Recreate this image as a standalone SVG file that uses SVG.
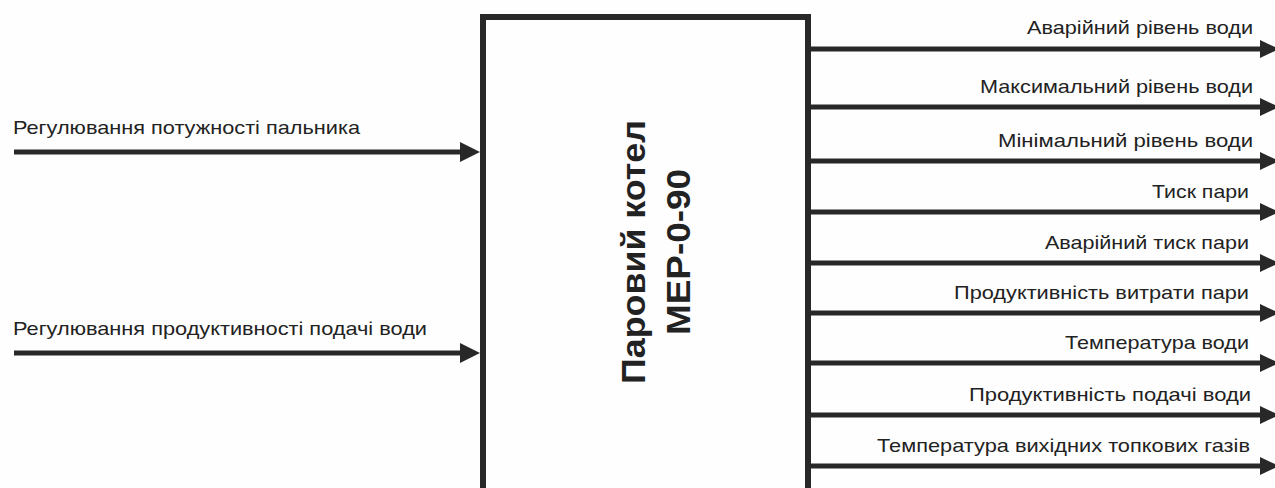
<svg xmlns="http://www.w3.org/2000/svg" width="1275" height="488" viewBox="0 0 1275 488">
  <style>
    .wire { stroke: #282828; stroke-width: 5; fill: none; }
    .head { fill: #282828; }
    .lbl { font-family: "Liberation Sans", Arial, sans-serif; font-size: 19px; fill: #222; }
    .out { text-anchor: end; }
    .title { font-family: "Liberation Sans", Arial, sans-serif; font-size: 33px; font-weight: bold; fill: #222; text-anchor: middle; }
  </style>
  <defs>
    <polygon id="tip" class="head" points="-20,-10 0,0 -20,10"/>
    <polygon id="tip-out" class="head" points="-19,-9 0,0 -19,9"/>
  </defs>
  <rect width="1275" height="488" fill="#fefefe"/>

  <!-- boiler block -->
  <g id="boiler">
    <rect x="483" y="17" width="325" height="500" fill="#fefefe" stroke="#282828" stroke-width="6"/>
    <text class="title" transform="translate(645,252) rotate(-90)" textLength="264" lengthAdjust="spacingAndGlyphs">Паровий котел</text>
    <text class="title" transform="translate(690,252) rotate(-90)" textLength="166" lengthAdjust="spacingAndGlyphs">МЕР-0-90</text>
  </g>

  <!-- inputs -->
  <g id="in-burner">
    <text class="lbl" x="13" y="134" textLength="347" lengthAdjust="spacingAndGlyphs">Регулювання потужності пальника</text>
  </g>
  <g id="in-feed">
    <text class="lbl" x="13" y="335" textLength="414" lengthAdjust="spacingAndGlyphs">Регулювання продуктивності подачі води</text>
  </g>

  <!-- outputs -->
  <g id="out-1"><text class="lbl out" x="1253" y="34" textLength="226" lengthAdjust="spacingAndGlyphs">Аварійний рівень води</text></g>
  <g id="out-2"><text class="lbl out" x="1253" y="93" textLength="273" lengthAdjust="spacingAndGlyphs">Максимальний рівень води</text></g>
  <g id="out-3"><text class="lbl out" x="1253" y="147" textLength="255" lengthAdjust="spacingAndGlyphs">Мінімальний рівень води</text></g>
  <g id="out-4"><text class="lbl out" x="1249" y="198" textLength="97" lengthAdjust="spacingAndGlyphs">Тиск пари</text></g>
  <g id="out-5"><text class="lbl out" x="1249" y="249" textLength="204" lengthAdjust="spacingAndGlyphs">Аварійний тиск пари</text></g>
  <g id="out-6"><text class="lbl out" x="1249" y="299" textLength="295" lengthAdjust="spacingAndGlyphs">Продуктивність витрати пари</text></g>
  <g id="out-7"><text class="lbl out" x="1249" y="349" textLength="184" lengthAdjust="spacingAndGlyphs">Температура води</text></g>
  <g id="out-8"><text class="lbl out" x="1251" y="401" textLength="282" lengthAdjust="spacingAndGlyphs">Продуктивність подачі води</text></g>
  <g id="out-9"><text class="lbl out" x="1250" y="452" textLength="373" lengthAdjust="spacingAndGlyphs">Температура вихідних топкових газів</text></g>

  <!-- connectors -->
  <g id="connectors">
    <path class="wire" d="M14 152H464M14 353H464"/>
    <use href="#tip" x="480" y="152"/>
    <use href="#tip" x="480" y="353"/>
    <path class="wire" d="M811 49H1264M811 107H1264M811 161H1264M811 212H1264M811 263H1264M811 313H1264M811 363H1264M811 415H1264M811 466H1264"/>
    <use href="#tip-out" x="1279" y="49"/>
    <use href="#tip-out" x="1279" y="107"/>
    <use href="#tip-out" x="1279" y="161"/>
    <use href="#tip-out" x="1279" y="212"/>
    <use href="#tip-out" x="1279" y="263"/>
    <use href="#tip-out" x="1279" y="313"/>
    <use href="#tip-out" x="1279" y="363"/>
    <use href="#tip-out" x="1279" y="415"/>
    <use href="#tip-out" x="1279" y="466"/>
  </g>
</svg>
